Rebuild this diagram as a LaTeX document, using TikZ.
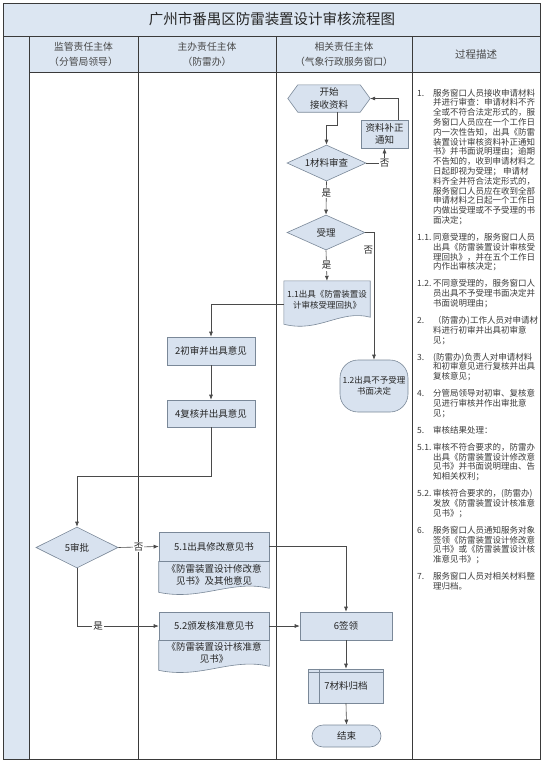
\documentclass[tikz,border=0pt]{standalone}
\usepackage{fontspec}
\setmainfont{Noto Sans CJK SC}
\usetikzlibrary{shapes.geometric,arrows.meta,backgrounds,calc}
\definecolor{lanefill}{HTML}{DCE6F2}
\definecolor{nodefill}{HTML}{D8E2EF}
\definecolor{nodeline}{HTML}{7A8898}
\definecolor{lineC}{HTML}{4A4A4A}
\definecolor{frameC}{HTML}{3A3A3A}
\definecolor{txt}{HTML}{262626}
\definecolor{desctxt}{HTML}{3A3A3A}
\begin{document}
\begin{tikzpicture}[x=1pt,y=-1pt,
  nodefont/.style={font=\fontsize{9.5}{12.5}\selectfont},
  smallfont/.style={font=\fontsize{8.5}{11}\selectfont},
  box/.style={draw=nodeline, fill=nodefill, line width=0.6pt, nodefont, text=txt, align=center, inner sep=1pt},
  txtonly/.style={nodefont, text=txt, align=center, inner sep=1pt},
  shapebg/.style={draw=nodeline, fill=nodefill, line width=0.6pt},
  dia/.style={diamond, draw=nodeline, fill=nodefill, line width=0.6pt, aspect=2.2, inner sep=0pt, nodefont, text=txt},
  flow/.style={draw=lineC, line width=0.6pt, -{Latex[length=5pt,width=4pt]}},
  lab/.style={nodefont, text=txt, fill=white, inner sep=1pt},
  lab2/.style={nodefont, text=txt, inner sep=0.5pt},
  hdr/.style={font=\fontsize{9.8}{15}\selectfont, text=txt!85, align=center, inner sep=0pt},
  desc/.style={font=\fontsize{8.5}{9.8}\selectfont, text=desctxt, inner sep=0pt, anchor=base west},
  lane/.style={draw=frameC, line width=0.7pt}
]
\useasboundingbox (0,0) rectangle (544,764);

% ---------- table frame ----------
\fill[lanefill] (3,3) rectangle (540,36);
\fill[lanefill] (29,36) rectangle (540,72);
\fill[lanefill] (3,36) rectangle (29,759);
\draw[lane, line width=0.9pt] (3,3) rectangle (540,759);
\draw[lane, line width=0.9pt] (3,36) -- (540,36);
\draw[lane] (29,72) -- (540,72);
\foreach \x in {29,138,276,412} \draw[lane] (\x,36) -- (\x,759);

\node[font=\fontsize{14.5}{16}\selectfont, text=txt, inner sep=0pt] (title) at (272,19) {广州市番禺区防雷装置设计审核流程图};
\node[hdr] (h1) at (83.5,54) {监管责任主体\\（分管局领导）};
\node[hdr] (h2) at (207,54) {主办责任主体\\（防雷办）};
\node[hdr] (h3) at (344,54) {相关责任主体\\（气象行政服务窗口）};
\node[hdr, font=\fontsize{10.5}{13}\selectfont] (h4) at (476,54) {过程描述};

% ---------- flow nodes ----------
\node[txtonly, minimum width=82pt, minimum height=27pt] (start) at (329,98.5) {开始\\接收资料};
\node[box, minimum width=47pt, minimum height=28pt] (fix) at (384.5,134) {资料补正\\通知};
\node[dia, minimum width=79pt, minimum height=36pt] (d1) at (326.5,163) {1材料审查};
\node[dia, minimum width=78pt, minimum height=35pt] (d2) at (326,232.5) {受理};
\node[txtonly, smallfont, minimum width=86pt, minimum height=38pt] (n11) at (327,300) {1.1出具《防雷装置设\\计审核受理回执》};
\node[box, smallfont, rounded corners=18pt, minimum width=68pt, minimum height=52pt] (n12) at (374,386) {1.2出具不予受理\\书面决定};
\node[box, minimum width=88pt, minimum height=28pt] (n2) at (211,351) {2初审并出具意见};
\node[box, minimum width=88pt, minimum height=27pt] (n4) at (211,413.5) {4复核并出具意见};
\node[dia, aspect=2, minimum width=82pt, minimum height=41pt] (d5) at (77,547.5) {5审批};
\node[box, minimum width=110pt, minimum height=29pt] (n51h) at (214,546.5) {5.1出具修改意见书};
\node[txtonly] (n51b) at (214,575) {《防雷装置设计修改意\\见书》及其他意见};
\node[box, minimum width=110pt, minimum height=28pt] (n52h) at (214,626) {5.2颁发核准意见书};
\node[txtonly] (n52b) at (214,653) {《防雷装置设计核准意\\见书》};
\node[box, minimum width=92pt, minimum height=28pt] (n6) at (346,626) {6签领};
\node[box, minimum width=75pt, minimum height=34pt] (n7) at (346,686) {7材料归档};
\draw[nodeline, line width=0.6pt] ([xshift=11pt]n7.north west) -- ([xshift=11pt]n7.south west);
\draw[nodeline, line width=0.6pt] ([yshift=-4pt]n7.north west) -- ([yshift=-4pt]n7.north east);
\node[box, rounded corners=11pt, minimum width=69pt, minimum height=22pt] (stop) at (346.5,736) {结束};

% ---------- drawn outlines behind text ----------
\begin{scope}[on background layer]
\draw[shapebg] (start.west) -- ([xshift=10pt]start.north west) -- ([xshift=-10pt]start.north east)
  -- (start.east) -- ([xshift=-10pt]start.south east) -- ([xshift=10pt]start.south west) -- cycle;
\draw[shapebg] (n11.north west) -- (n11.north east) -- ($(n11.south east)+(0,-2)$)
  .. controls ($(n11.south east)+(-30,-10)$) and ($(n11.south west)+(35,14)$) .. ($(n11.south west)+(0,5)$) -- cycle;
\draw[shapebg] (n51h.south west) -- (n51h.south east) -- ($(n51h.south east)+(0,27)$)
  .. controls ($(n51h.south east)+(-38,18)$) and ($(n51h.south west)+(42,40)$) .. ($(n51h.south west)+(0,31)$) -- cycle;
\draw[shapebg] (n52h.south west) -- (n52h.south east) -- ($(n52h.south east)+(0,26)$)
  .. controls ($(n52h.south east)+(-38,17)$) and ($(n52h.south west)+(42,39)$) .. ($(n52h.south west)+(0,30)$) -- cycle;
\end{scope}

% ---------- connectors ----------
\draw[flow] ([xshift=8pt]start.south) -- ++(0,13) -| (d1.north);
\draw[flow] (d1.east) -| node[lab, pos=0.5]{否} (fix.south);
\draw[flow] ([xshift=13.5pt]fix.north) |- (start.east);
\draw[flow] (d1.south) -- node[lab, pos=0.35]{是} (d2.north);
\draw[flow] (d2.east) -| node[lab2, pos=0.57, anchor=east]{否} (n12.north);
\draw[flow] (d2.south) -- node[lab]{是} (n11.north);
\draw[flow] ([yshift=-4pt]n11.west) -| (n2.north);
\draw[flow] (n2.south) -- (n4.north);
\draw[flow] (n4.south) -- ++(0,49) -| (d5.north);
\draw[flow] (d5.east) -- node[lab]{否} (n51h.west);
\draw[flow] (d5.south) |- node[lab, pos=0.63]{是} (n52h.west);
\draw[flow] (n51h.east) -| (n6.north);
\draw[flow] (n52h.east) -- (n6.west);
\draw[flow] (n6.south) -- (n7.north);
\draw[flow] (n7.south) -- (stop.north);

% ---------- process description ----------
\node[desc] (q1) at (417,96) {1.};
\node[desc] (p1) at (433,96) {\parbox[t]{106pt}{服务窗口人员接收申请材料\\并进行审查：申请材料不齐\\全或不符合法定形式的，服\\务窗口人员应在一个工作日\\内一次性告知，出具《防雷\\装置设计审核资料补正通知\\书》并书面说明理由；逾期\\不告知的，收到申请材料之\\日起即视为受理； 申请材\\料齐全并符合法定形式的，\\服务窗口人员应在收到全部\\申请材料之日起一个工作日\\内做出受理或不予受理的书\\面决定；}};
\node[desc] (q11) at (417,240.4) {1.1.};
\node[desc] (p11) at (433,240.4) {\parbox[t]{106pt}{同意受理的，服务窗口人员\\出具《防雷装置设计审核受\\理回执》，并在五个工作日\\内作出审核决定；}};
\node[desc] (q12) at (417,286.8) {1.2.};
\node[desc] (p12) at (433,286.8) {\parbox[t]{106pt}{不同意受理的，服务窗口人\\员出具不予受理书面决定并\\书面说明理由；}};
\node[desc] (q2) at (417,323.4) {2.};
\node[desc] (p2) at (433,323.4) {\parbox[t]{106pt}{（防雷办)工作人员对申请材\\料进行初审并出具初审意\\见；}};
\node[desc] (q3) at (417,360) {3.};
\node[desc] (p3) at (433,360) {\parbox[t]{106pt}{(防雷办)负责人对申请材料\\和初审意见进行复核并出具\\复核意见；}};
\node[desc] (q4) at (417,396.6) {4.};
\node[desc] (p4) at (433,396.6) {\parbox[t]{106pt}{分管局领导对初审、复核意\\见进行审核并作出审批意\\见；}};
\node[desc] (q5) at (417,433.2) {5.};
\node[desc] (p5) at (433,433.2) {\parbox[t]{106pt}{审核结果处理：}};
\node[desc] (q51) at (417,450.2) {5.1.};
\node[desc] (p51) at (433,450.2) {\parbox[t]{106pt}{审核不符合要求的，防雷办\\出具《防雷装置设计修改意\\见书》并书面说明理由、告\\知相关权利；}};
\node[desc] (q52) at (417,496.6) {5.2.};
\node[desc] (p52) at (433,496.6) {\parbox[t]{106pt}{审核符合要求的，(防雷办)\\发放《防雷装置设计核准意\\见书》；}};
\node[desc] (q6) at (417,533.2) {6.};
\node[desc] (p6) at (433,533.2) {\parbox[t]{106pt}{服务窗口人员通知服务对象\\签领《防雷装置设计修改意\\见书》或《防雷装置设计核\\准意见书》；}};
\node[desc] (q7) at (417,579.6) {7.};
\node[desc] (p7) at (433,579.6) {\parbox[t]{106pt}{服务窗口人员对相关材料整\\理归档。}};
\end{tikzpicture}
\end{document}
